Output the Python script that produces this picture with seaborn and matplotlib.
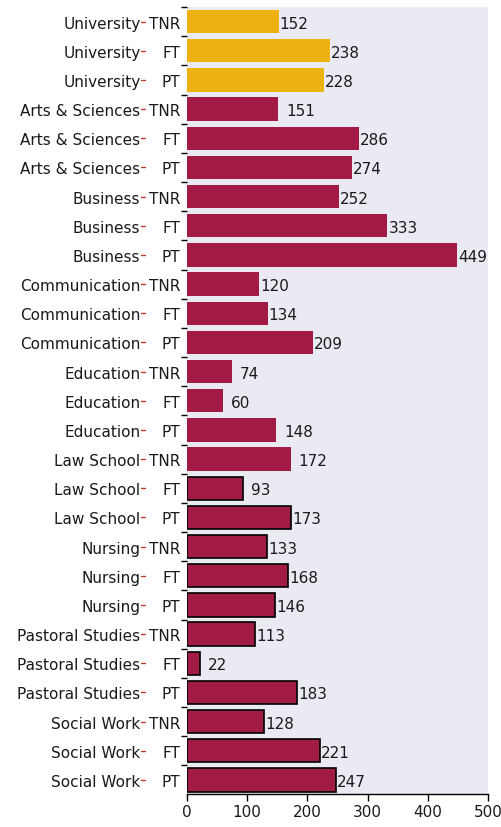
import matplotlib
matplotlib.use("Agg")
import matplotlib.pyplot as plt
import matplotlib.transforms as mtransforms
from matplotlib.lines import Line2D
import seaborn as sns
import pandas as pd

groups = ["University", "Arts & Sciences", "Business", "Communication", "Education",
          "Law School", "Nursing", "Pastoral Studies", "Social Work"]
subcats = ["TNR", "FT", "PT"]
values = [152, 238, 228,
          151, 286, 274,
          252, 333, 449,
          120, 134, 209,
          74, 60, 148,
          172, 93, 173,
          133, 168, 146,
          113, 22, 183,
          128, 221, 247]
label_gap = [1, 1, 1,
             8, 1, 1,
             1, 1, 1,
             1, 1, 1,
             8, 8, 8,
             8, 8, 1,
             1, 1, 1,
             1, 8, 1,
             1, 1, 1]

rows = []
for gi, g in enumerate(groups):
    for si, s in enumerate(subcats):
        rows.append({"key": f"{g}|{s}", "group": g, "sub": s,
                     "value": values[gi * 3 + si]})
df = pd.DataFrame(rows)

gold = "#EDB111"
crimson = "#A11B45"
colors = [gold if g == "University" else crimson for g in df["group"]]

sns.set_theme(style="dark", rc={"axes.facecolor": "#EAEAF2"})
plt.rcParams["font.family"] = ["DejaVu Sans"]

FS = 11
TXT = "#1a1a1a"
PX = 0.72  # points per pixel at 100 dpi

fig = plt.figure(figsize=(5.01, 8.28), dpi=100)
ax = fig.add_axes([187 / 501, 1 - 795 / 828, (488 - 187) / 501, (795 - 8) / 828])

sns.barplot(data=df, y="key", x="value", hue="key", palette=colors, legend=False,
            orient="h", width=0.8, ax=ax, saturation=1)

edge_start = df.index[(df["group"] == "Law School") & (df["sub"] == "FT")][0]
for i, p in enumerate(ax.patches[:len(df)]):
    if i >= edge_start:
        p.set_edgecolor("black")
        p.set_linewidth(1.2)
    else:
        p.set_edgecolor("none")

for i, v in enumerate(df["value"]):
    ax.annotate(str(v), (v, i), xytext=(label_gap[i] * PX, 0), textcoords="offset points",
                va="center_baseline", ha="left", fontsize=FS, color=TXT)

n = len(df)
ax.set_xlim(0, 500)
ax.set_ylim(n - 1 + 0.48, -0.462)
ax.set_xticks([0, 100, 200, 300, 400, 500])
ax.set_xlabel("")
ax.set_ylabel("")
ax.tick_params(axis="x", bottom=True, length=5, width=1, colors="black", labelsize=FS, pad=2)
for t in ax.get_xticklabels():
    t.set_color(TXT)
ax.set_yticks(range(n))
ax.set_yticklabels(df["sub"], fontsize=FS, color=TXT, va="center_baseline")
ax.tick_params(axis="y", which="major", left=False, length=0, pad=7 * PX)
ax.set_yticks([i - 0.5 for i in range(n)], minor=True)
ax.tick_params(axis="y", which="minor", left=True, length=4, width=1, color="black")

for s in ["top", "right", "left"]:
    ax.spines[s].set_visible(False)
ax.spines["bottom"].set_visible(True)
ax.spines["bottom"].set_color("black")
ax.spines["bottom"].set_linewidth(1)

trans = mtransforms.blended_transform_factory(fig.transFigure, ax.transData)
for i, g in enumerate(df["group"]):
    ax.text(140.5 / 501, i, g, transform=trans, ha="right", va="center_baseline",
            fontsize=FS, color=TXT)
    ax.add_line(Line2D([141 / 501, 145 / 501], [i, i], transform=trans,
                       color="#C0392B", linewidth=1.0, clip_on=False))

fig.savefig("out.png", dpi=100)
